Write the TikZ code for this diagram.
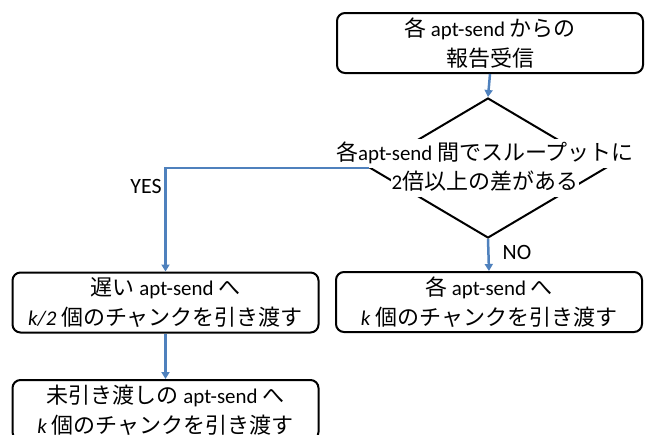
\documentclass[tikz,border=0pt]{standalone}
\usepackage{fontspec}
\setmainfont{Carlito}[Scale=0.95]
\newfontfamily\jp{Noto Sans CJK JP}
\usetikzlibrary{shapes.geometric,arrows.meta}
\definecolor{blueline}{HTML}{4F81BD}
\begin{document}
\begin{tikzpicture}[x=1pt,y=-1pt,
  box/.style={draw=black,line width=2pt,rounded corners=8pt,minimum width=306pt,minimum height=60pt,inner sep=0pt,align=center,font=\fontsize{22}{29.5}\selectfont},
  flow/.style={draw=blueline,line width=2.5pt,-{Triangle[length=7pt,width=8pt]}},
  lbl/.style={font=\fontsize{23}{26}\selectfont,inner sep=0pt},
  dtext/.style={fill=white,inner xsep=1pt,inner ysep=4pt,text height=18pt,text depth=3pt,font=\fontsize{22}{29.5}\selectfont}]
\useasboundingbox (0,0) rectangle (648,434);
\clip (0,0) rectangle (648,434);
\node[box] (top) at (490,43) {{\jp 各} apt-send {\jp からの}\\{\jp 報告受信}};
\node[draw=black,line width=2pt,shape=diamond,minimum width=236pt,minimum height=140pt,inner sep=0pt] (d) at (488,168) {};
\node[dtext] (dl1) at (485,153) {{\jp 各}apt-send {\jp 間でスループットに}};
\node[dtext] (dl2) at (485,182) {2{\jp 倍以上の差がある}};
\node[box] (lbox) at (165.5,302.5) {{\jp 遅い} apt-send {\jp へ}\\\textit{k/2} {\jp 個のチャンクを引き渡す}};
\node[box] (rbox) at (489,302) {{\jp 各} apt-send {\jp へ}\\\textit{k} {\jp 個のチャンクを引き渡す}};
\node[box] (bbox) at (165.5,410) {{\jp 未引き渡しの} apt-send {\jp へ}\\\textit{k} {\jp 個のチャンクを引き渡す}};
\node[lbl] (yes) at (146,186) {YES};
\node[lbl] (no) at (517,252) {NO};
\draw[flow] (top.south) -- (d.north);
\draw[flow] (d.west) -| (lbox.north);
\draw[flow] (d.south) -- (rbox.north);
\draw[flow] (lbox.south) -- (bbox.north);
\end{tikzpicture}
\end{document}
